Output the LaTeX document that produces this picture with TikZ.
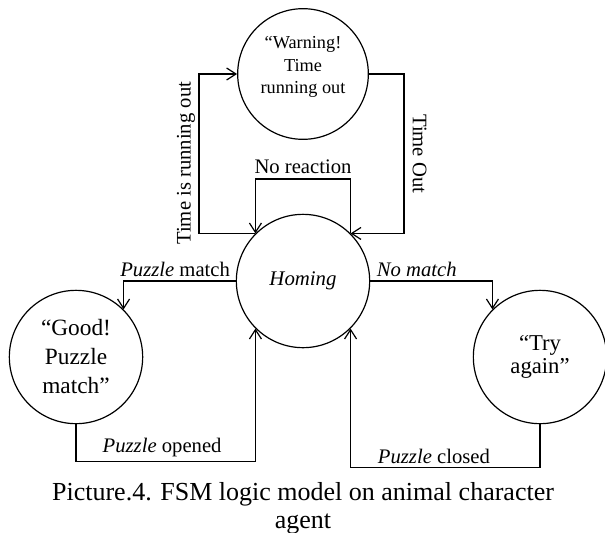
\documentclass[tikz,border=0pt]{standalone}
\usepackage{fontspec}
\setmainfont{Liberation Serif}
\usetikzlibrary{arrows.meta}
\tikzset{%
  fsm state/.style={
    circle,
    draw,
    minimum size=100pt,
    inner sep=0pt,
    align=center
  },
  state text/.style={
    align=center,
    inner sep=0pt
  },
  edge label/.style={
    font=\fontsize{15.5}{18}\selectfont,
    inner sep=2.5pt
  },
}

\begin{document}
\begin{tikzpicture}[x=0.75pt, y=-0.75pt, line width=0.9pt, >={Straight Barb[length=7pt,width=9pt]}]

\useasboundingbox (0,0) rectangle (605,532);

\node [fsm state, minimum size=98pt] (warning) at (303,74) {};
\node [state text, font=\fontsize{13.7}{16.9}\selectfont] (warning-text) at (303,67) {“Warning!\\ Time\\ running out};
\node [fsm state, font=\fontsize{15.6}{18}\selectfont\itshape] (homing) at (303,281) {Homing};
\node [fsm state, font=\fontsize{17.5}{21.75}\selectfont] (good) at (76,357) {“Good!\\ Puzzle\\ match”};
\node [fsm state, font=\fontsize{17}{17}\selectfont] (try) at (540,357) {“Try\\ again”};

\coordinate (left-turn) at (199,0);
\coordinate (right-turn) at (404,0);
\coordinate (loop-top) at (303,179);

\draw [->] (homing.135) -- (homing.135 -| left-turn) |-
  node [edge label, rotate=90, above, pos=0.22] {Time is running out} (warning.west);

\draw [->] (warning.east) -|
  node [edge label, rotate=-90, above, inner sep=6pt, pos=0.75] {Time Out} (right-turn |- homing.45) -- (homing.45);

\draw [->] (homing.45) |- (loop-top)
  node [edge label, above, inner sep=3.5pt] {No reaction} -| (homing.135);

\draw [->] (homing.west) -|
  node [edge label, above, pos=0.27] {\textit{Puzzle} match} (good.north east);

\draw [->] (homing.east) -|
  node [edge label, above, pos=0.19] {\textit{No match}} (try.north west);

\draw [->] (good.south) -- ++(0,37) -|
  node [edge label, above, pos=0.24] {\textit{Puzzle} opened} (homing.south west);

\draw [->] (try.south) -- ++(0,43) -|
  node [edge label, above, pos=0.28] {\textit{Puzzle} closed} (homing.south east);

\node [font=\fontsize{19.5}{21}\selectfont, align=center] (caption) at (303,508)
  {Picture.4. FSM logic model on animal character\\ agent};

\end{tikzpicture}
\end{document}
